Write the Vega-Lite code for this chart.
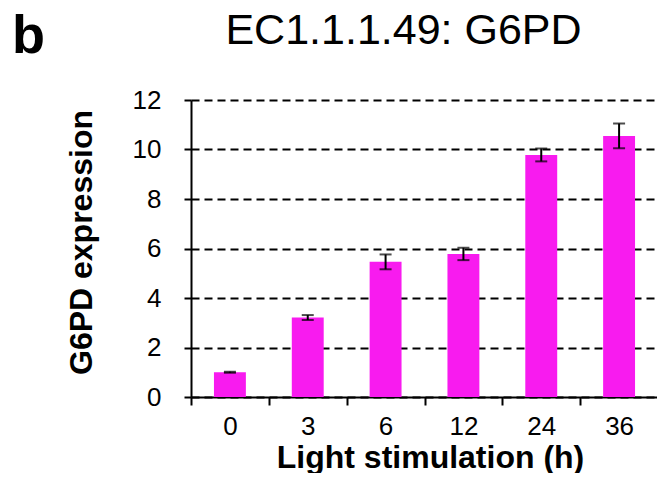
{
  "$schema": "https://vega.github.io/schema/vega-lite/v6.json",
  "background": "white",
  "padding": {"left": 12, "top": 10, "right": 0, "bottom": 0},
  "config": {
    "font": "Liberation Sans",
    "view": {"stroke": null},
    "concat": {"spacing": 0}
  },
  "title": {
    "text": "b",
    "orient": "left",
    "angle": 0,
    "anchor": "end",
    "frame": "bounds",
    "baseline": "top",
    "align": "left",
    "fontSize": 54,
    "fontWeight": "bold",
    "color": "black",
    "offset": 20
  },
  "vconcat": [
    {
      "title": {
        "text": "EC1.1.1.49: G6PD",
        "fontSize": 43,
        "fontWeight": "normal",
        "color": "black",
        "anchor": "middle",
        "dx": -21,
        "offset": 34
      },
      "width": 467,
      "height": 297,
      "data": {
        "values": [
          {"time": "0", "expression": 1.0, "sd": 0.02},
          {"time": "3", "expression": 3.21, "sd": 0.1},
          {"time": "6", "expression": 5.46, "sd": 0.3},
          {"time": "12", "expression": 5.78, "sd": 0.25},
          {"time": "24", "expression": 9.78, "sd": 0.26},
          {"time": "36", "expression": 10.55, "sd": 0.5}
        ]
      },
      "encoding": {
        "x": {
          "field": "time",
          "type": "nominal",
          "sort": null,
          "scale": {"paddingInner": 0, "paddingOuter": 0},
          "axis": {
            "title": "Light stimulation (h)",
            "labelAngle": 0,
            "tickBand": "extent",
            "labelFontSize": 26,
            "labelColor": "black",
            "labelPadding": 8,
            "domainColor": "black",
            "domainWidth": 2,
            "tickColor": "black",
            "tickWidth": 2,
            "tickSize": 8,
            "titleFontSize": 32,
            "titleFontWeight": "bold",
            "titleColor": "black",
            "titlePadding": 3,
            "titleX": 239
          }
        },
        "y": {
          "field": "expression",
          "type": "quantitative",
          "title": "G6PD expression",
          "scale": {"domain": [0, 12], "nice": false},
          "axis": {
            "values": [0, 2, 4, 6, 8, 10, 12],
            "grid": true,
            "gridColor": "black",
            "gridDash": [8, 5],
            "gridWidth": 2,
            "gridOpacity": 1,
            "labelFontSize": 26,
            "labelColor": "black",
            "labelPadding": 23,
            "domainColor": "black",
            "domainWidth": 2,
            "tickColor": "black",
            "tickWidth": 2,
            "tickSize": 7,
            "titleFontSize": 32,
            "titleFontWeight": "bold",
            "titleColor": "black",
            "titlePadding": 34,
            "titleY": 142
          }
        }
      },
      "layer": [
        {
          "mark": {"type": "bar", "color": "#F81BEF", "width": {"band": 0.41}}
        },
        {
          "mark": {
            "type": "errorbar",
            "ticks": {"size": 12, "thickness": 2, "color": "black"},
            "rule": {"strokeWidth": 2, "color": "black"}
          },
          "encoding": {
            "yError": {"field": "sd"}
          }
        }
      ]
    }
  ]
}
